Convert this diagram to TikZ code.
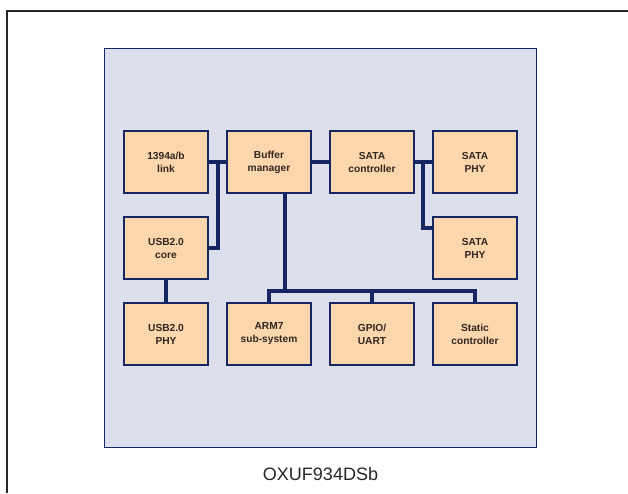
\documentclass[tikz,border=0pt]{standalone}
\usepackage{fontspec}
\setsansfont{Liberation Sans}
\usetikzlibrary{positioning}
\definecolor{chipbg}{RGB}{221,223,236}
\definecolor{peach}{RGB}{252,214,172}
\definecolor{navy}{RGB}{22,38,98}
\definecolor{ink}{RGB}{50,38,32}
\begin{document}
\begin{tikzpicture}[x=1pt,y=-1pt,line join=miter,
 blk/.style={draw=navy,fill=peach,line width=2.2pt,minimum width=84pt,minimum height=62pt,
  align=center,inner sep=0pt,text=ink,font=\sffamily\bfseries\fontsize{10.2}{13}\selectfont},
 bus/.style={draw=navy,line width=3.3pt}]
 \useasboundingbox (0,0) rectangle (628,493);
 \draw[line width=2pt,black!85] (7,493) -- (7,11) -- (628,11);
 \node[draw=navy,fill=chipbg,line width=1.7pt,minimum width=432pt,minimum height=399pt,inner sep=0pt] (chip) at (320.5,248) {};
 \node[below=16pt of chip,font=\sffamily\fontsize{18}{20}\selectfont,text=black!85] (name) {OXUF934DSb};
 % blocks
 \node[blk] (link) at (166,162) {1394a/b\\link};
 \node[blk] (buf) at (269,162) {Buffer\\manager};
 \node[blk] (sctl) at (372,162) {SATA\\controller};
 \node[blk] (sphya) at (475,162) {SATA\\PHY};
 \node[blk] (usbc) at (166,248) {USB2.0\\core};
 \node[blk] (sphyb) at (475,248) {SATA\\PHY};
 \node[blk] (usbp) at (166,334) {USB2.0\\PHY};
 \node[blk] (arm) at (269,334) {ARM7\\sub-system};
 \node[blk] (gpio) at (372,334) {GPIO/\\UART};
 \node[blk] (stat) at (475,334) {Static\\controller};
 \coordinate (ja) at (218,162);
 \coordinate (jb) at (423,162);
 \coordinate (jc) at (285,291);
 % connectors
 \draw[bus] (link.east) -- (buf.west) (buf.east) -- (sctl.west) (sctl.east) -- (sphya.west);
 \draw[bus] (ja) |- (usbc.east);
 \draw[bus] (jb) |- ([yshift=20pt]sphyb.west);
 \draw[bus] (usbc.south) -- (usbp.north);
 \draw[bus] ([xshift=16pt]buf.south) -- (jc);
 \draw[bus] (arm.north) |- (jc) -| (stat.north);
 \draw[bus] (gpio.north) -- (gpio.north |- jc);
\end{tikzpicture}
\end{document}
